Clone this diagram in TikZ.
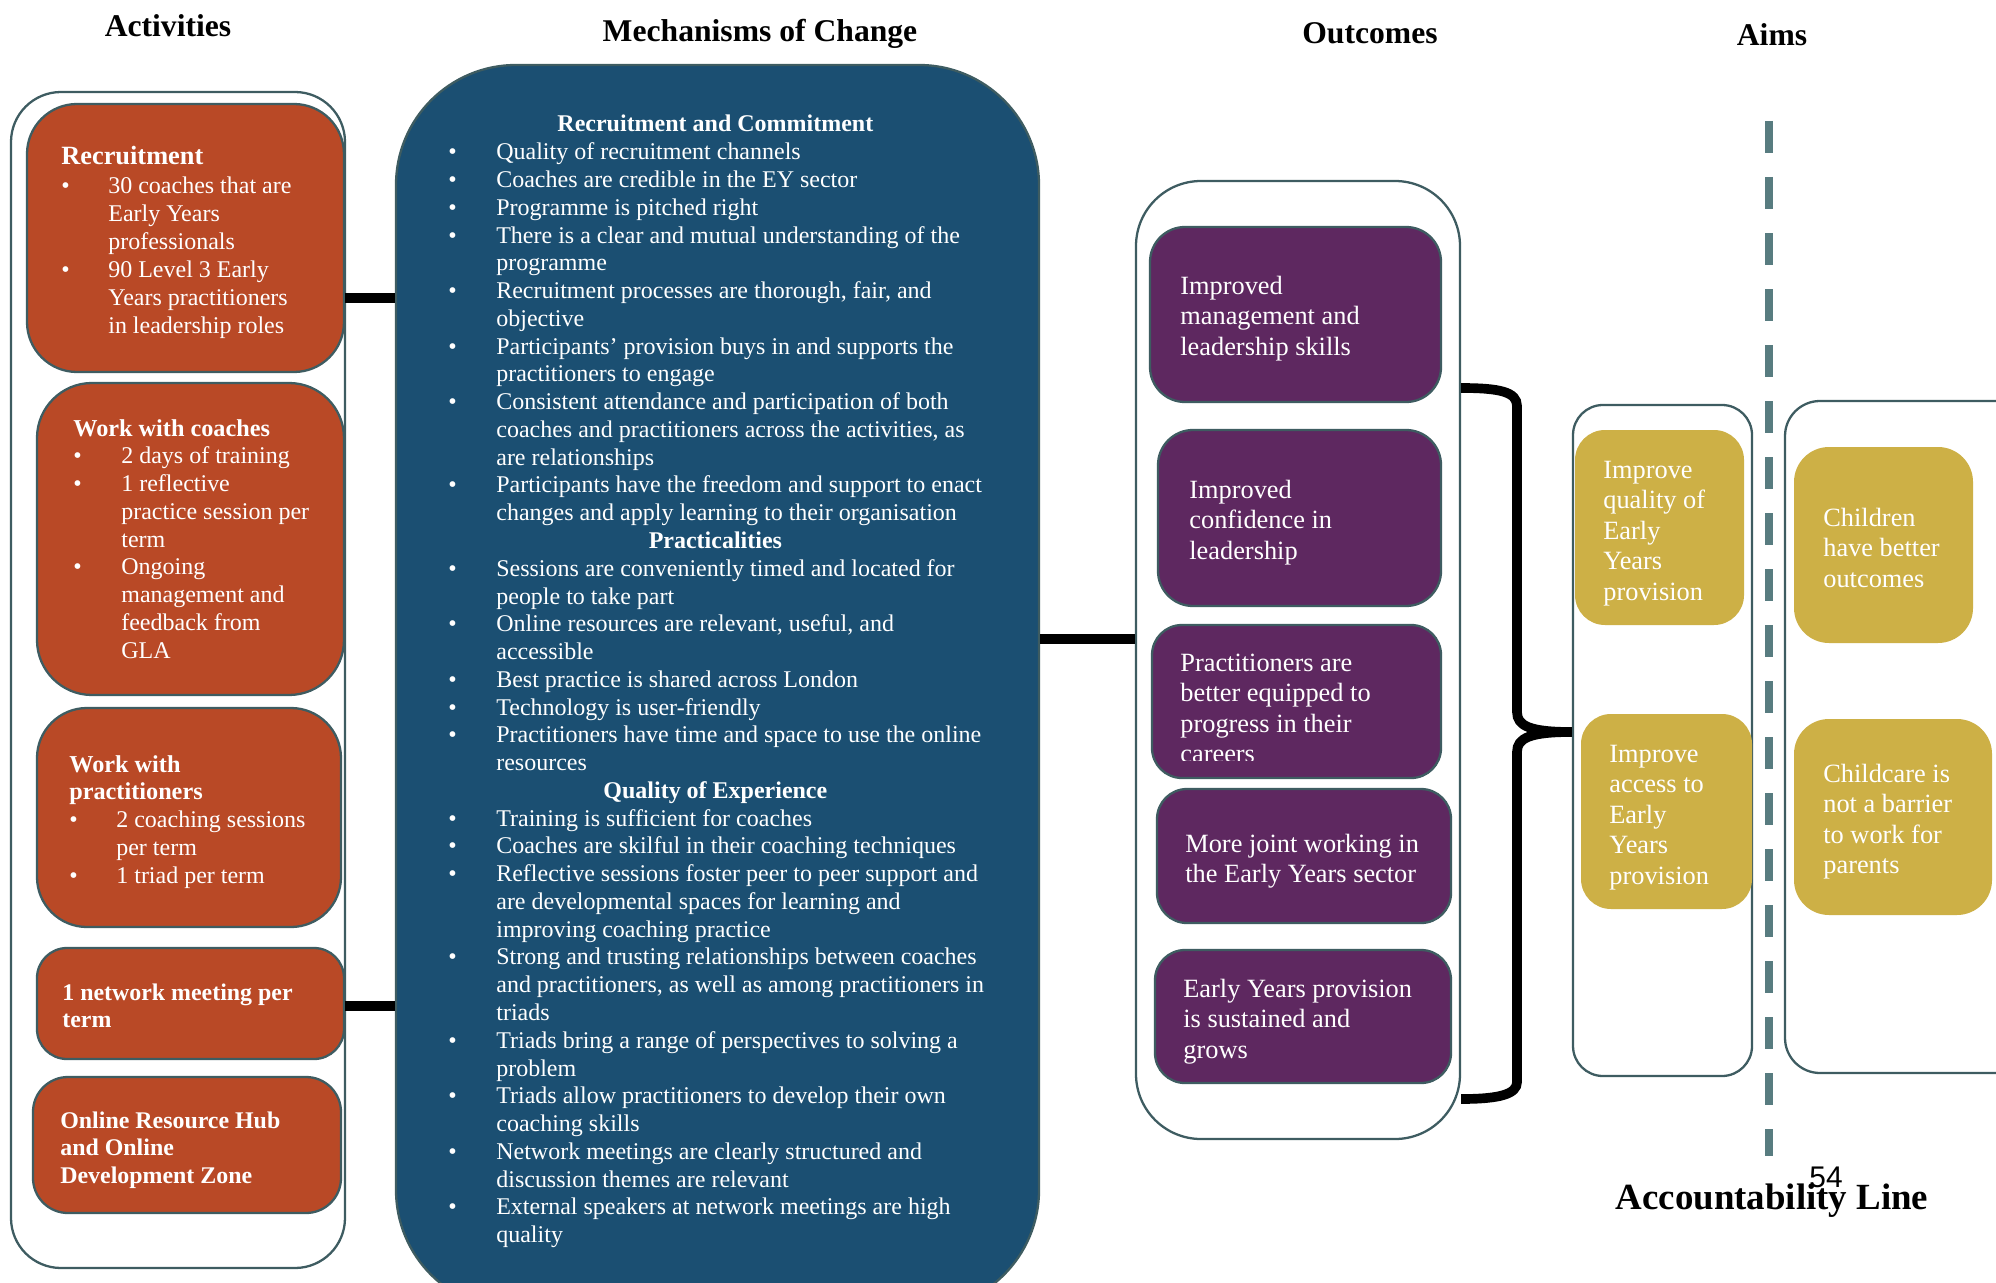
\documentclass[tikz,border=0pt]{standalone}
\usepackage{fontspec}
\setmainfont{Liberation Serif}
\newfontfamily\pagenumfont{Liberation Sans}
\usepackage{tikz}
\usetikzlibrary{calc}
\definecolor{actfill}{RGB}{185,73,38}
\definecolor{mechfill}{RGB}{27,79,114}
\definecolor{outfill}{RGB}{94,40,96}
\definecolor{aimfill}{RGB}{205,176,70}
\definecolor{edge}{RGB}{62,92,97}
\definecolor{dashcol}{RGB}{88,124,128}

\begin{document}
\begin{tikzpicture}[x=0.2mm, y=-0.2mm,
box/.style={draw=edge, line width=1.3pt, inner sep=0pt},
frame/.style={box, fill=white},
act/.style={box, fill=actfill},
mech/.style={box, fill=mechfill},
outc/.style={box, fill=outfill},
aim/.style={inner sep=0pt, fill=aimfill},
wh/.style 2 args={minimum width=#1*0.2mm, minimum height=#2*0.2mm},
rc/.style={rounded corners=#1*0.2mm},
txt/.style={text=white, inner sep=0pt, anchor=base west, font=\fontsize{13.65}{15.8}\selectfont},
bigtxt/.style={txt, font=\fontsize{15}{17.4}\selectfont},
head/.style={font=\fontsize{18}{20}\selectfont\bfseries},
link/.style={line width=5.5pt, black}]
\useasboundingbox (0,0) rectangle (1996,1282);
\clip (0,0) rectangle (1996,1282);

% headings
\node[head] (h-act) at (168,26) {Activities};
\node[head] (h-mech) at (760,34) {Mechanisms of Change};
\node[head] (h-out) at (1370,33) {Outcomes};
\node[head] (h-aim) at (1772,35) {Aims};

% activities
\node[frame, rc=50, wh={334}{1176}] (act-frame) at (178,680) {};
\node[act, rc=50, wh={317}{268}] (recruit) at (185.5,238) {};
\node[act, rc=55, wh={307}{312}] (coaches) at (190.5,539) {};
\node[act, rc=50, wh={304}{219}] (practs) at (189,817.5) {};
\node[act, rc=30, wh={307}{111}] (network) at (190.5,1003.5) {};
\node[act, rc=35, wh={308}{136}] (online) at (187,1145) {};

\node[txt, font=\fontsize{13.65}{16}\selectfont] (recruit-t) at (61,165) {\begin{tabular}[t]{@{}p{0.94cm}@{}l@{}}
\multicolumn{2}{@{}l@{}}{\fontsize{15}{17}\selectfont\bfseries Recruitment}\\
\textbullet & 30 coaches that are\\
 & Early Years\\
 & professionals\\
\textbullet & 90 Level 3 Early\\
 & Years practitioners\\
 & in leadership roles
\end{tabular}};
\node[txt] (coaches-t) at (73,436) {\begin{tabular}[t]{@{}p{0.96cm}@{}l@{}}
\multicolumn{2}{@{}l@{}}{\fontsize{13.8}{16}\selectfont\bfseries Work with coaches}\\
\textbullet & 2 days of training\\
\textbullet & 1 reflective\\
 & practice session per\\
 & term\\
\textbullet & Ongoing\\
 & management and\\
 & feedback from\\
 & GLA
\end{tabular}};
\node[txt] (practs-t) at (69,772) {\begin{tabular}[t]{@{}p{0.94cm}@{}l@{}}
\multicolumn{2}{@{}l@{}}{\fontsize{13.8}{16}\selectfont\bfseries Work with}\\
\multicolumn{2}{@{}l@{}}{\fontsize{13.8}{16}\selectfont\bfseries practitioners}\\
\textbullet & 2 coaching sessions\\
 & per term\\
\textbullet & 1 triad per term
\end{tabular}};
\node[txt, font=\fontsize{13.6}{15.8}\selectfont\bfseries] (network-t) at (62,1000) {\begin{tabular}[t]{@{}l@{}}
1 network meeting per\\
term
\end{tabular}};
\node[txt, font=\fontsize{13.6}{15.8}\selectfont\bfseries] (online-t) at (60,1128) {\begin{tabular}[t]{@{}l@{}}
Online Resource Hub\\
and Online\\
Development Zone
\end{tabular}};

% mechanisms of change
\node[mech, rc=120, wh={643}{1245}] (mech) at (717.5,687.5) {};
\node[txt] (mech-t) at (448,132) {\begin{tabular}[t]{@{}p{0.96cm}@{}l@{}}
\multicolumn{2}{@{}l@{}}{\makebox[10.68cm]{\bfseries Recruitment and Commitment}}\\
\textbullet & Quality of recruitment channels\\
\textbullet & Coaches are credible in the EY sector\\
\textbullet & Programme is pitched right\\
\textbullet & There is a clear and mutual understanding of the\\
 & programme\\
\textbullet & Recruitment processes are thorough, fair, and\\
 & objective\\
\textbullet & Participants’ provision buys in and supports the\\
 & practitioners to engage\\
\textbullet & Consistent attendance and participation of both\\
 & coaches and practitioners across the activities, as\\
 & are relationships\\
\textbullet & Participants have the freedom and support to enact\\
 & changes and apply learning to their organisation\\
\multicolumn{2}{@{}l@{}}{\makebox[10.68cm]{\bfseries Practicalities}}\\
\textbullet & Sessions are conveniently timed and located for\\
 & people to take part\\
\textbullet & Online resources are relevant, useful, and\\
 & accessible\\
\textbullet & Best practice is shared across London\\
\textbullet & Technology is user-friendly\\
\textbullet & Practitioners have time and space to use the online\\
 & resources\\
\multicolumn{2}{@{}l@{}}{\makebox[10.68cm]{\bfseries Quality of Experience}}\\
\textbullet & Training is sufficient for coaches\\
\textbullet & Coaches are skilful in their coaching techniques\\
\textbullet & Reflective sessions foster peer to peer support and\\
 & are developmental spaces for learning and\\
 & improving coaching practice\\
\textbullet & Strong and trusting relationships between coaches\\
 & and practitioners, as well as among practitioners in\\
 & triads\\
\textbullet & Triads bring a range of perspectives to solving a\\
 & problem\\
\textbullet & Triads allow practitioners to develop their own\\
 & coaching skills\\
\textbullet & Network meetings are clearly structured and\\
 & discussion themes are relevant\\
\textbullet & External speakers at network meetings are high\\
 & quality
\end{tabular}};

% outcomes
\node[frame, rc=65, wh={324}{958}] (outc) at (1298,660) {};
\node[outc, rc=35, wh={291}{175}] (o1) at (1295.5,314.5) {};
\node[outc, rc=35, wh={283}{176}] (o2) at (1299.5,518) {};
\node[outc, rc=30, wh={289}{153}] (o3) at (1296.5,701.5) {};
\node[outc, rc=30, wh={294}{134}] (o4) at (1304,856) {};
\node[outc, rc=30, wh={296}{133}] (o5) at (1303,1016.5) {};
\node[bigtxt] (o1-t) at (1180,294) {\begin{tabular}[t]{@{}l@{}}Improved\\ management and\\ leadership skills\end{tabular}};
\node[bigtxt] (o2-t) at (1189,498) {\begin{tabular}[t]{@{}l@{}}Improved\\ confidence in\\ leadership\end{tabular}};
\begin{scope}
\clip (o3.north west) rectangle ($(o3.south east)+(0,-19)$);
\node[bigtxt] (o3-t) at (1180,671) {\begin{tabular}[t]{@{}l@{}}Practitioners are\\ better equipped to\\ progress in their\\ careers\end{tabular}};
\end{scope}
\node[bigtxt] (o4-t) at (1185,852) {\begin{tabular}[t]{@{}l@{}}More joint working in\\ the Early Years sector\end{tabular}};
\node[bigtxt] (o5-t) at (1183,997) {\begin{tabular}[t]{@{}l@{}}Early Years provision\\ is sustained and\\ grows\end{tabular}};

% aims
\node[frame, rc=30, wh={179}{671}] (aim-a) at (1662.5,740.5) {};
\node[aim, rc=30, wh={169}{195}] (g1) at (1659.5,527.5) {};
\node[aim, rc=30, wh={171}{195}] (g2) at (1666.5,811.5) {};
\node[frame, rc=35, wh={245}{672}] (aim-b) at (1907.5,737) {};
\node[aim, rc=35, wh={179}{196}] (g3) at (1883.5,545) {};
\node[aim, rc=35, wh={198}{196}] (g4) at (1893,817) {};
\node[bigtxt] (g1-t) at (1603,478) {\begin{tabular}[t]{@{}l@{}}Improve\\ quality of\\ Early\\ Years\\ provision\end{tabular}};
\node[bigtxt] (g2-t) at (1609,762) {\begin{tabular}[t]{@{}l@{}}Improve\\ access to\\ Early\\ Years\\ provision\end{tabular}};
\node[bigtxt] (g3-t) at (1823,526) {\begin{tabular}[t]{@{}l@{}}Children\\ have better\\ outcomes\end{tabular}};
\node[bigtxt] (g4-t) at (1823,782) {\begin{tabular}[t]{@{}l@{}}Childcare is\\ not a barrier\\ to work for\\ parents\end{tabular}};

% connectors
\coordinate (r-link) at (0,298);
\coordinate (n-link) at (0,1006);
\coordinate (m-link) at (0,639);
\coordinate (brace-top) at (0,388);
\coordinate (brace-tip) at (0,732);
\coordinate (brace-bot) at (0,1099);
\draw[link] (recruit.east |- r-link) -- (mech.west |- r-link);
\draw[link] (network.east |- n-link) -- (mech.west |- n-link);
\draw[link] (mech.east |- m-link) -- (outc.west |- m-link);
\draw[link] (outc.east |- brace-top) .. controls (1500,388) and (1517,392) .. (1517,406) -- (1517,712)
  .. controls (1517,726) and (1530,732) .. (aim-a.west |- brace-tip);
\draw[link] (aim-a.west |- brace-tip) .. controls (1530,732) and (1517,738) .. (1517,752) -- (1517,1082)
  .. controls (1517,1094) and (1500,1099) .. (outc.east |- brace-bot);

% accountability line
\coordinate (acc-top) at (1769,121);
\coordinate (acc-bot) at (1769,1156);
\draw[dashcol, line width=1.6mm, dash pattern=on 6.4mm off 4.8mm] (acc-top) -- (acc-bot);
\node[font=\fontsize{21}{24}\selectfont\bfseries] (acc-label) at (1772,1201) {Accountability Line};
\node[font=\pagenumfont\fontsize{17}{17}\selectfont] (page-num) at (1826,1177) {54};
\end{tikzpicture}
\end{document}
